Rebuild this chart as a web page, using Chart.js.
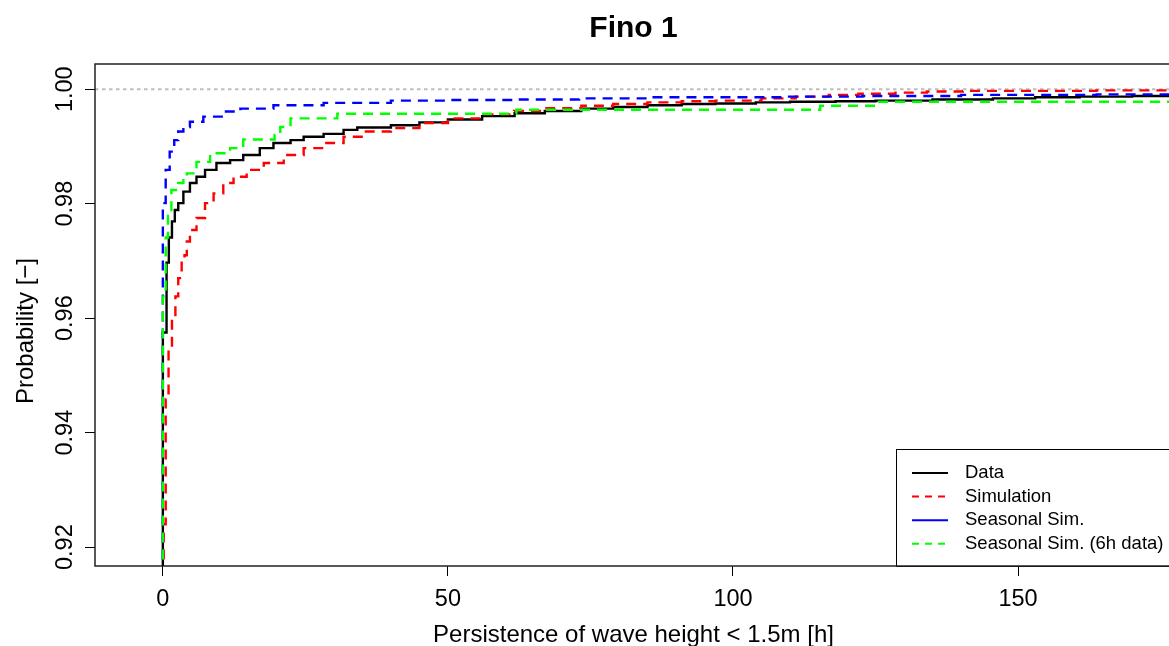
<!DOCTYPE html>
<html>
<head>
<meta charset="utf-8">
<title>Fino 1</title>
<script src="https://cdn.jsdelivr.net/npm/chart.js@4.4.1/dist/chart.umd.min.js"></script>
<style>
  html, body { margin: 0; padding: 0; overflow: hidden; background: #fff; }
  #wrap { position: absolute; left: 0; top: 0; width: 1180px; height: 646px; }
</style>
</head>
<body>
<div id="wrap"><canvas id="persistChart"></canvas></div>
<script>
const titleText = "Fino 1";
const xLabel = "Persistence of wave height < 1.5m [h]";
const yLabel = "Probability [\u2212]";
const xTicks = [0, 50, 100, 150];
const yTicks = [0.92, 0.94, 0.96, 0.98, 1.0];
const yTickLabels = ["0.92", "0.94", "0.96", "0.98", "1.00"];
const xMin = -11.9, xMax = 177;
const yMin = 0.9167, yMax = 1.0044;
const refLevel = 1.0;

const seriesNames = ["Data", "Simulation", "Seasonal Sim.", "Seasonal Sim. (6h data)"];

// measured data (black)
const dataHours = [0, 0, 0.65, 1.05, 1.6, 2.1, 2.7, 3.6, 4.75, 5.9, 7.4, 9.4, 11.8, 14.1, 17, 19.4, 22.4, 24.7, 28.2, 31.7, 34.1, 40, 45, 50, 56, 61.7, 67, 73.4, 79, 85, 91, 96.9, 104, 110, 118, 125, 135, 145.6, 153, 160.8, 170, 176.7, 190];
const dataProb = [0.90, 0.9575, 0.9697, 0.9741, 0.9769, 0.9789, 0.9801, 0.9821, 0.9836, 0.9847, 0.9859, 0.9871, 0.9876, 0.9885, 0.9897, 0.9906, 0.9911, 0.9917, 0.9922, 0.9929, 0.9933, 0.9937, 0.9942, 0.9947, 0.9953, 0.9958, 0.9962, 0.9966, 0.9969, 0.9972, 0.9974, 0.9975, 0.9977, 0.9978, 0.9979, 0.998, 0.9982, 0.9984, 0.9986, 0.9987, 0.9988, 0.9988, 0.9988];

// simulation (red)
const simHours = [0.15, 0.15, 0.5, 1.0, 1.6, 2.2, 2.7, 3.3, 3.8, 4.2, 4.75, 5.9, 7.4, 8.9, 10.6, 12.4, 14.7, 17.7, 21.2, 24.7, 28.2, 31.7, 35.3, 40, 45, 50, 56, 61.6, 67, 73.4, 79, 85, 91, 96.9, 105, 111, 116.8, 122, 128.5, 134, 140.3, 150, 163.7, 177, 190];
const simProb = [0.90, 0.924, 0.9458, 0.9549, 0.9603, 0.9638, 0.967, 0.9699, 0.971, 0.9734, 0.9754, 0.9775, 0.9801, 0.9818, 0.9836, 0.9847, 0.9859, 0.9871, 0.9885, 0.9897, 0.9906, 0.9917, 0.9926, 0.9932, 0.9941, 0.9949, 0.9956, 0.9962, 0.9967, 0.9971, 0.9974, 0.9977, 0.9979, 0.998, 0.9984, 0.9987, 0.999, 0.9992, 0.9994, 0.9996, 0.9997, 0.9997, 0.9998, 0.9999, 0.9999];

// seasonal simulation (blue)
const seasHours = [0, 0, 0.5, 1.2, 2.0, 2.7, 3.6, 4.75, 7.1, 10.6, 13.6, 19.4, 28.2, 40, 50, 61.6, 73, 85, 97, 108.6, 122.7, 140, 163.8, 190];
const seasProb = [0.90, 0.9801, 0.9859, 0.9891, 0.9911, 0.9926, 0.9934, 0.9943, 0.9952, 0.9961, 0.9966, 0.9972, 0.9976, 0.998, 0.9981, 0.9982, 0.9984, 0.9986, 0.9986, 0.9987, 0.9988, 0.999, 0.9991, 0.9991];

// seasonal simulation, 6h data (green)
const seas6Hours = [0, 0, 0.5, 0.9, 1.5, 2.7, 3.6, 4.2, 5.9, 8.3, 11.8, 14.1, 19.6, 20.6, 22.4, 30.6, 62, 115.3, 125, 190];
const seas6Prob = [0.90, 0.9638, 0.9741, 0.9786, 0.9824, 0.9836, 0.9845, 0.9853, 0.9873, 0.9888, 0.9897, 0.9912, 0.992, 0.9934, 0.9949, 0.9957, 0.9964, 0.9971, 0.9978, 0.9978];

const lineColors = ["#000000", "#ff0000", "#0000ff", "#00ff00"];
const plotDash = [[], [10, 7], [10, 7], [10, 7]];
const legendDash = [[], [7, 6], [], [7, 6]];

const FONT = "'Liberation Sans', Arial, Helvetica, sans-serif";
Chart.defaults.font.family = FONT;
Chart.defaults.color = "#000";

function toPoints(xs, ys) {
  return xs.map((x, i) => ({ x: x, y: ys[i] }));
}

const allHours = [dataHours, simHours, seasHours, seas6Hours];
const allProb = [dataProb, simProb, seasProb, seas6Prob];

const datasets = seriesNames.map((name, i) => ({
  label: name,
  data: toPoints(allHours[i], allProb[i]),
  borderColor: lineColors[i],
  borderWidth: 2.4,
  borderDash: plotDash[i],
  pointRadius: 0,
  stepped: true,
  fill: false,
  order: 4 - i
}));
// dotted reference line at 1
datasets.push({
  label: "ref",
  data: [{ x: xMin, y: refLevel }, { x: xMax, y: refLevel }],
  borderColor: "#bebebe",
  borderWidth: 2,
  borderDash: [3.5, 3.5],
  pointRadius: 0,
  order: 10
});

// R-like decorations: box, title, rotated y labels, legend
const rDecor = {
  id: "rDecor",
  afterDatasetsDraw(chart) {
    const ctx = chart.ctx;
    const a = chart.chartArea;
    // legend (bottom right, partly cut off like the original)
    const lx = a.right - 276, ly = a.bottom - 117;
    ctx.save();
    ctx.fillStyle = "#fff";
    ctx.fillRect(lx, ly, 320, 117);
    ctx.strokeStyle = "#000";
    ctx.lineWidth = 1;
    ctx.strokeRect(lx + 0.5, ly + 0.5, 320, 117);
    ctx.font = "18.5px " + FONT;
    ctx.textBaseline = "middle";
    ctx.textAlign = "left";
    seriesNames.forEach((name, i) => {
      const ry = ly + 24 + i * 23.6;
      ctx.beginPath();
      ctx.setLineDash(legendDash[i]);
      ctx.strokeStyle = lineColors[i];
      ctx.lineWidth = 2;
      ctx.moveTo(lx + 16, ry);
      ctx.lineTo(lx + 52, ry);
      ctx.stroke();
      ctx.setLineDash([]);
      ctx.fillStyle = "#000";
      ctx.fillText(name, lx + 69, ry);
    });
    // box
    ctx.strokeStyle = "#222";
    ctx.lineWidth = 1.5;
    ctx.strokeRect(a.left, a.top, a.right - a.left, a.bottom - a.top);
    ctx.restore();
  },
  afterDraw(chart) {
    const ctx = chart.ctx;
    const a = chart.chartArea;
    const ys = chart.scales.y;
    ctx.save();
    ctx.fillStyle = "#000";
    // title
    ctx.font = "bold 30px " + FONT;
    ctx.textAlign = "center";
    ctx.textBaseline = "alphabetic";
    ctx.fillText(titleText, (a.left + a.right) / 2, 37);
    // y tick labels, rotated
    ctx.font = "23.5px " + FONT;
    yTicks.forEach((v, i) => {
      ctx.save();
      ctx.translate(a.left - 23, ys.getPixelForValue(v));
      ctx.rotate(-Math.PI / 2);
      ctx.fillText(yTickLabels[i], 0, 0);
      ctx.restore();
    });
    // y title
    ctx.font = "24px " + FONT;
    ctx.translate(a.left - 62, (a.top + a.bottom) / 2 + 16);
    ctx.rotate(-Math.PI / 2);
    ctx.fillText(yLabel, 0, 0);
    ctx.restore();
  }
};

new Chart(document.getElementById("persistChart"), {
  type: "line",
  data: { datasets: datasets },
  plugins: [rDecor],
  options: {
    responsive: true,
    maintainAspectRatio: false,
    animation: false,
    layout: { padding: { top: 64, right: 8, left: 0, bottom: 0 } },
    plugins: { legend: { display: false }, tooltip: { enabled: false } },
    scales: {
      x: {
        type: "linear",
        min: xMin,
        max: xMax,
        afterBuildTicks: (s) => { s.ticks = xTicks.map((v) => ({ value: v })); },
        afterFit: (s) => { s.height = 80; },
        grid: { drawOnChartArea: false, drawTicks: true, tickLength: 10, color: "#000", lineWidth: 1 },
        border: { display: false },
        ticks: { font: { size: 23.5 }, color: "#000", padding: 9, maxRotation: 0, autoSkip: false, callback: (v) => String(v) },
        title: { display: true, text: xLabel, font: { size: 24, lineHeight: 0.85 }, color: "#000", padding: 0 }
      },
      y: {
        type: "linear",
        min: yMin,
        max: yMax,
        afterBuildTicks: (s) => { s.ticks = yTicks.map((v) => ({ value: v })); },
        afterFit: (s) => { s.width = 95; },
        grid: { drawOnChartArea: false, drawTicks: true, tickLength: 10, color: "#000", lineWidth: 1 },
        border: { display: false },
        ticks: { display: false }
      }
    }
  }
});
</script>
</body>
</html>
